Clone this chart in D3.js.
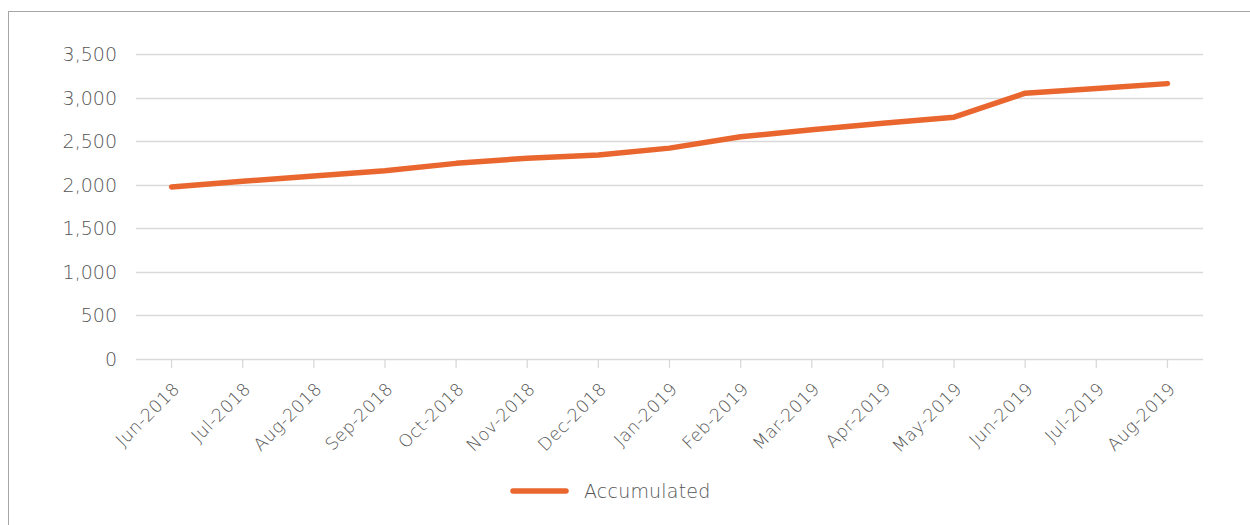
<!DOCTYPE html>
<html>
<head>
<meta charset="utf-8">
<script src="https://cdn.jsdelivr.net/npm/d3@7"></script>
<style>
  body { margin: 0; background: #fff; }
  text { font-family: "DejaVu Sans", "Noto Sans", sans-serif; font-weight: 200; fill: #555; }
</style>
</head>
<body>
<div id="chart"></div>
<script>
// chart values
var months = ["Jun-2018", "Jul-2018", "Aug-2018", "Sep-2018", "Oct-2018", "Nov-2018", "Dec-2018",
  "Jan-2019", "Feb-2019", "Mar-2019", "Apr-2019", "May-2019", "Jun-2019", "Jul-2019", "Aug-2019"];
var accumulated = [1975, 2040, 2100, 2160, 2245, 2305, 2340, 2420, 2550, 2630, 2705, 2775, 3050, 3105, 3160];
var yTicks = [0, 500, 1000, 1500, 2000, 2500, 3000, 3500];
var seriesName = "Accumulated";

var width = 1250,
  height = 525;

var svg = d3.select('#chart')
  .append('svg')
  .attr('width', width)
  .attr('height', height)

// outer frame (runs off the right/bottom edge like the original)
svg.append('rect')
  .attr('x', 8.5)
  .attr('y', 11.5)
  .attr('width', 1300)
  .attr('height', 600)
  .attr('fill', 'none')
  .attr('stroke', '#a6a6a6')
  .attr('stroke-width', 1)

var margin = { left: 136, right: 1203, top: 54, bottom: 359 };

var x = d3.scaleBand()
  .domain(months)
  .range([margin.left, margin.right])

var y = d3.scaleLinear()
  .domain([0, 3500])
  .range([margin.bottom, margin.top])

// gridlines
svg.selectAll('.grid')
  .data(yTicks)
  .join('line')
  .attr('class', 'grid')
  .attr('x1', margin.left)
  .attr('x2', margin.right)
  .attr('y1', d => Math.round(y(d)) + 0.5)
  .attr('y2', d => Math.round(y(d)) + 0.5)
  .attr('stroke', '#d9d9d9')
  .attr('stroke-width', 1.3)

// y labels
svg.selectAll('.ylab')
  .data(yTicks)
  .join('text')
  .attr('class', 'ylab')
  .attr('x', 117)
  .attr('y', d => y(d) + 7)
  .attr('text-anchor', 'end')
  .style('font-size', '19px')
  .text(d => d3.format(',')(d))

// x ticks
svg.selectAll('.xtick')
  .data(months)
  .join('line')
  .attr('class', 'xtick')
  .attr('x1', d => x(d) + x.bandwidth() / 2)
  .attr('x2', d => x(d) + x.bandwidth() / 2)
  .attr('y1', margin.bottom)
  .attr('y2', margin.bottom + 9)
  .attr('stroke', '#d9d9d9')
  .attr('stroke-width', 1.3)

// x labels, rotated
svg.selectAll('.xlab')
  .data(months)
  .join('text')
  .attr('class', 'xlab')
  .attr('text-anchor', 'end')
  .style('font-size', '17.5px')
  .style('letter-spacing', '0.4px')
  .attr('transform', d => 'translate(' + (x(d) + x.bandwidth() / 2 + 9) + ',' + (margin.bottom + 31) + ') rotate(-45)')
  .text(d => d)

// the line
var line = d3.line()
  .x((d, i) => x(months[i]) + x.bandwidth() / 2)
  .y(d => y(d))

svg.append('path')
  .datum(accumulated)
  .attr('d', line)
  .attr('fill', 'none')
  .attr('stroke', '#e9672f')
  .attr('stroke-width', 5.5)
  .attr('stroke-linecap', 'round')
  .attr('stroke-linejoin', 'round')

// legend
svg.append('line')
  .attr('x1', 513)
  .attr('x2', 566)
  .attr('y1', 491)
  .attr('y2', 491)
  .attr('stroke', '#e9672f')
  .attr('stroke-width', 5.5)
  .attr('stroke-linecap', 'round')

svg.append('text')
  .attr('x', 584)
  .attr('y', 498)
  .style('font-size', '19px')
  .style('letter-spacing', '0.2px')
  .text(seriesName)
</script>
</body>
</html>
